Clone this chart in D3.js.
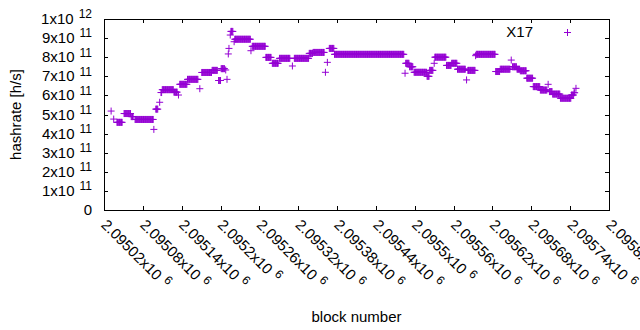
<!DOCTYPE html>
<html>
<head>
<meta charset="utf-8">
<script src="https://cdn.jsdelivr.net/npm/d3@7"></script>
<style>
  body { margin: 0; background: #fff; }
  svg text { font-family: "Liberation Sans", Arial, sans-serif; fill: #000; }
</style>
</head>
<body>
<div id="chart"></div>
<script>
// runs of blocks with a constant X17 hashrate estimate (h/s)
const runStart = [2095031, 2095035, 2095040, 2095051, 2095062, 2095068, 2095097, 2095100, 2095106, 2095108,
  2095110, 2095128, 2095135, 2095137, 2095149, 2095168, 2095171, 2095187, 2095197, 2095201,
  2095208, 2095210, 2095212, 2095213, 2095215, 2095216, 2095221, 2095222, 2095247, 2095249,
  2095270, 2095280, 2095291, 2095311, 2095314, 2095337, 2095343, 2095362, 2095365, 2095368,
  2095376, 2095485, 2095486, 2095492, 2095499, 2095519, 2095523, 2095530, 2095531, 2095549,
  2095557, 2095566, 2095580, 2095582, 2095594, 2095595, 2095625, 2095632, 2095649, 2095651,
  2095658, 2095663, 2095673, 2095683, 2095694, 2095706, 2095708, 2095713, 2095725, 2095742,
  2095746, 2095749];
const runEnd = [2095031, 2095035, 2095048, 2095061, 2095065, 2095096, 2095097, 2095103, 2095106, 2095109,
  2095127, 2095133, 2095135, 2095148, 2095165, 2095168, 2095186, 2095195, 2095200, 2095206,
  2095208, 2095210, 2095212, 2095213, 2095215, 2095219, 2095221, 2095246, 2095247, 2095269,
  2095278, 2095289, 2095307, 2095311, 2095336, 2095342, 2095360, 2095362, 2095365, 2095375,
  2095483, 2095485, 2095491, 2095497, 2095518, 2095522, 2095528, 2095530, 2095548, 2095556,
  2095565, 2095578, 2095580, 2095593, 2095594, 2095624, 2095631, 2095647, 2095649, 2095657,
  2095662, 2095672, 2095682, 2095693, 2095704, 2095706, 2095712, 2095724, 2095741, 2095745,
  2095747, 2095749];
const runValue = [5.18e11, 4.76e11, 4.59e11, 5.05e11, 4.89e11, 4.74e11, 4.22e11, 5.28e11, 5.64e11, 6.15e11,
  6.30e11, 6.17e11, 6.02e11, 6.58e11, 6.84e11, 6.35e11, 7.20e11, 7.31e11, 6.78e11, 7.40e11,
  7.33e11, 6.84e11, 8.17e11, 8.46e11, 9.16e11, 9.35e11, 8.81e11, 8.94e11, 8.34e11, 8.57e11,
  7.99e11, 7.68e11, 7.94e11, 7.54e11, 7.94e11, 8.20e11, 8.25e11, 7.21e11, 7.73e11, 8.46e11,
  8.15e11, 7.16e11, 7.68e11, 7.50e11, 7.21e11, 7.00e11, 7.31e11, 7.68e11, 8.00e11, 7.57e11,
  7.68e11, 7.37e11, 6.81e11, 7.31e11, 8.08e11, 8.15e11, 7.25e11, 7.37e11, 7.85e11, 7.50e11,
  7.37e11, 7.29e11, 6.90e11, 6.46e11, 6.28e11, 6.58e11, 6.20e11, 6.07e11, 5.85e11, 6.02e11,
  6.14e11, 6.37e11];

const xTicks = d3.range(2095020, 2095801, 60);
const yTicks = d3.range(0, 11).map(k => k * 1e11);
const seriesName = "X17";

const width = 640, height = 330;
const mLeft = 104, mRight = 609, mTop = 19, mBottom = 210;
const color = "#9400d3";

// one point per block inside every run
const points = [];
runStart.forEach((s, i) => {
    for (let b = s; b <= runEnd[i]; b++) points.push({ block: b, value: runValue[i] });
});

const svg = d3.select("#chart")
    .append("svg")
    .attr("width", width)
    .attr("height", height);

const x = d3.scaleLinear().domain([2095020, 2095800]).range([mLeft, mRight]);
const y = d3.scaleLinear().domain([0, 1e12]).range([mBottom, mTop]);

const plus = (px, py) => `M${px - 3.5},${py}H${px + 3.5}M${px},${py - 3.5}V${py + 3.5}`;

// tick marks on all four sides, pointing inward
const ticks = svg.append("g").attr("stroke", "#000").attr("stroke-width", 1);
ticks.selectAll(".yt")
    .data(yTicks)
    .join("path")
    .attr("d", d => {
        const py = Math.round(y(d)) + 0.5;
        return `M${mLeft},${py}h4M${mRight},${py}h-4`;
    });
ticks.selectAll(".xt")
    .data(xTicks)
    .join("path")
    .attr("d", d => {
        const px = Math.round(x(d)) + 0.5;
        return `M${px},${mBottom}v-4M${px},${mTop}v4`;
    });

// y tick labels: mantissa x10 with superscript exponent
svg.append("g")
    .selectAll("text")
    .data(yTicks)
    .join("text")
    .attr("x", 92)
    .attr("y", d => y(d) + 5)
    .attr("text-anchor", "end")
    .style("font-size", "15px")
    .each(function(d) {
        const t = d3.select(this);
        if (d === 0) { t.text("0"); return; }
        const e = Math.floor(Math.log10(d) + 1e-9);
        const m = Math.round(d / Math.pow(10, e));
        t.append("tspan").text(`${m}x10`);
        t.append("tspan").attr("dx", 5).attr("dy", -5.7).style("font-size", "12px").text(e);
    });

// x tick labels, rotated
svg.append("g")
    .selectAll("text")
    .data(xTicks)
    .join("text")
    .attr("transform", d => `translate(${x(d)}, 222) rotate(45)`)
    .attr("dy", "0.35em")
    .style("font-size", "15px")
    .each(function(d) {
        const t = d3.select(this);
        t.append("tspan").text(`${+(d / 1e6).toFixed(6)}x10`);
        t.append("tspan").attr("dx", 5).attr("dy", -5.7).style("font-size", "12px").text(6);
    });

// border
svg.append("rect")
    .attr("x", mLeft + 0.5)
    .attr("y", mTop + 0.5)
    .attr("width", mRight - mLeft)
    .attr("height", mBottom - mTop)
    .attr("fill", "none")
    .attr("stroke", "#000");

// data points
svg.append("path")
    .attr("d", points.map(d => plus(x(d.block), y(d.value))).join(""))
    .attr("fill", "none")
    .attr("stroke", color)
    .attr("stroke-width", 1);

// legend
svg.append("text")
    .attr("x", 533)
    .attr("y", 36.5)
    .attr("text-anchor", "end")
    .style("font-size", "15px")
    .text(seriesName);
svg.append("path")
    .attr("d", plus(567.5, 32.5))
    .attr("stroke", color)
    .attr("stroke-width", 1);

// axis titles
svg.append("text")
    .attr("x", (mLeft + mRight) / 2)
    .attr("y", 321.5)
    .attr("text-anchor", "middle")
    .style("font-size", "15px")
    .text("block number");
svg.append("text")
    .attr("transform", `translate(21, ${(mTop + mBottom) / 2}) rotate(-90)`)
    .attr("text-anchor", "middle")
    .style("font-size", "15px")
    .text("hashrate [h/s]");
</script>
</body>
</html>
